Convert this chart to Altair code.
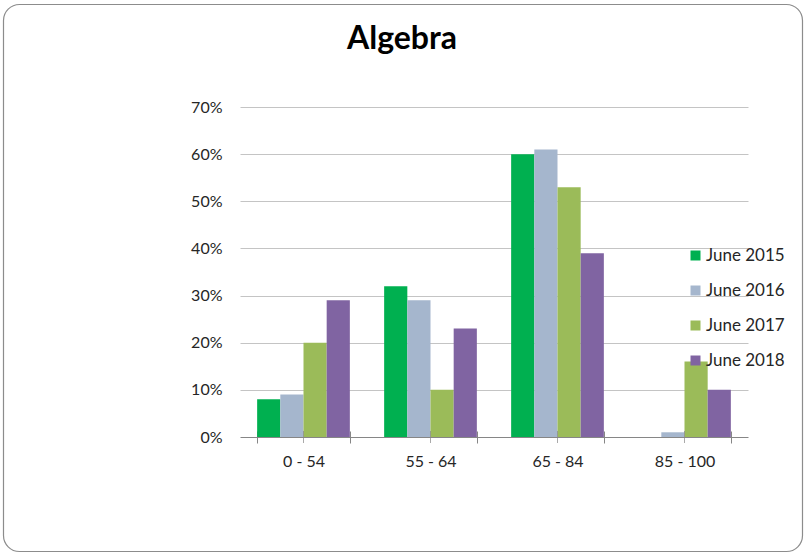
import altair as alt
import pandas as pd

# Score bands and share of students per June exam sitting
categories = ["0 - 54", "55 - 64", "65 - 84", "85 - 100"]
series = ["June 2015", "June 2016", "June 2017", "June 2018"]
june_2015 = [0.08, 0.32, 0.60, 0.00]
june_2016 = [0.09, 0.29, 0.61, 0.01]
june_2017 = [0.20, 0.10, 0.53, 0.16]
june_2018 = [0.29, 0.23, 0.39, 0.10]
colors = ["#00B050", "#A5B6CD", "#9BBB59", "#8064A2"]
y_ticks = [0, 0.1, 0.2, 0.3, 0.4, 0.5, 0.6, 0.7]

rows = []
for name, vals in zip(series, [june_2015, june_2016, june_2017, june_2018]):
    for cat, v in zip(categories, vals):
        rows.append({"band": cat, "sitting": name, "share": v})
df = pd.DataFrame(rows)

W, H = 508, 330
PAD = {"left": 240, "top": 107, "right": 56, "bottom": 116}
FONT = "Lato"

x_enc = alt.X(
    "band:N",
    sort=categories,
    title=None,
    scale=alt.Scale(paddingInner=0.27, paddingOuter=0.135),
    axis=alt.Axis(
        domain=False,
        ticks=True,
        tickBand="extent",
        tickSize=12,
        tickColor="#868686",
        offset=-6,
        labelAngle=0,
        labelPadding=10,
        labelFont=FONT,
        labelFontSize=16,
        labelColor="#262626",
    ),
)

y_enc = alt.Y(
    "share:Q",
    title=None,
    scale=alt.Scale(domain=[0, 0.7], nice=False),
    axis=alt.Axis(
        values=y_ticks,
        format=".0%",
        domain=False,
        ticks=False,
        grid=True,
        gridColor=alt.condition("datum.value == 0", alt.value("#868686"), alt.value("#c4c4c4")),
        labelPadding=18,
        labelFont=FONT,
        labelFontSize=16,
        labelColor="#262626",
    ),
)

bars = alt.Chart(df).mark_bar().encode(
    x=x_enc,
    xOffset=alt.XOffset("sitting:N", sort=series, scale=alt.Scale(paddingInner=0, paddingOuter=0)),
    y=y_enc,
    color=alt.Color(
        "sitting:N",
        sort=series,
        scale=alt.Scale(domain=series, range=colors),
        legend=alt.Legend(
            title=None,
            orient="none",
            legendX=447,
            legendY=140,
            symbolType="square",
            symbolSize=100,
            symbolStrokeWidth=0,
            labelFont=FONT,
            labelFontSize=17,
            labelColor="#262626",
            labelOffset=2,
            rowPadding=17,
            padding=0,
        ),
    ),
)

# small ticks at the centre of each score band, crossing the baseline
center_ticks = alt.Chart(pd.DataFrame({"band": categories})).mark_tick(
    orient="vertical", size=12, thickness=1, color="#868686"
).encode(
    x=alt.X("band:N", sort=categories),
    y=alt.datum(0),
)

# rounded frame around the whole chart
frame = alt.Chart(pd.DataFrame({"k": [0]})).mark_rect(
    fill="transparent", stroke="#8c8c8c", strokeWidth=1.2, cornerRadius=16
).encode(
    x=alt.value(-PAD["left"] + 3.5),
    x2=alt.value(W + PAD["right"] - 1.5),
    y=alt.value(-PAD["top"] + 4.5),
    y2=alt.value(H + PAD["bottom"] - 1.5),
)

chart = alt.layer(frame, bars, center_ticks).properties(
    width=W,
    height=H,
    padding=PAD,
    autosize=alt.AutoSizeParams(type="none"),
    background="white",
    title=alt.TitleParams(
        "Algebra",
        font=FONT,
        fontSize=32,
        fontWeight="bold",
        color="#000000",
        anchor="middle",
        dx=-92,
        baseline="alphabetic",
        offset=-77,
    ),
).configure_view(stroke=None)

chart.save("out.html", embed_options={"renderer": "svg", "actions": False})
